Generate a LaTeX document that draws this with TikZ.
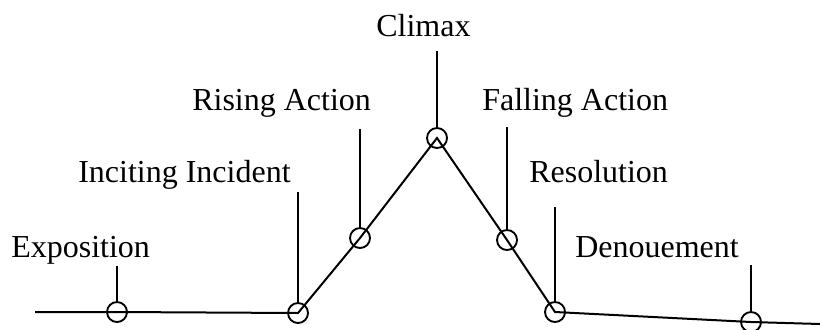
\documentclass[tikz,border=0pt]{standalone}
\usepackage{fontspec}
\setmainfont{Liberation Serif}
\usetikzlibrary{positioning}
\tikzset{
  plotline/.style={line width=1.5pt, black},
  tickline/.style={line width=1.5pt, black},
  stagept/.style={circle, draw=black, fill=none, line width=1.4pt,
                  minimum size=15pt, inner sep=0pt},
  stagelbl/.style={anchor=base west, inner sep=0pt,
                   font=\fontsize{24}{28}\selectfont},
}
\begin{document}
\begin{tikzpicture}[x=0.75pt, y=-0.75pt]
  \useasboundingbox (0,0) rectangle (820,329);

  %% Stage points on the plot line
  \node[stagept] (expo)   at (117,312) {};
  \node[stagept] (incite) at (298,313) {};
  \node[stagept] (rise)   at (360,238) {};
  \node[stagept] (climax) at (437,138) {};
  \node[stagept] (fall)   at (507,240) {};
  \node[stagept] (resol)  at (555,312) {};
  \node[stagept] (denou)  at (751,322) {};
  \coordinate (begin) at (35,312);
  \coordinate (finish) at (820,324);

  %% Plot line
  \draw[plotline] (begin) -- (expo.center) -- (incite.center) -- (rise.center)
    -- (climax.center) -- (fall.center) -- (resol.center) -- (denou.center) -- (finish);

  %% Labels
  \node[stagelbl] (lclimax) at (376,36)  {Climax};
  \node[stagelbl] (lrise)   at (192,110) {Rising Action};
  \node[stagelbl] (lfall)   at (482,110) {Falling Action};
  \node[stagelbl] (lincite) at (78,182)  {Inciting Incident};
  \node[stagelbl] (lresol)  at (529,182) {Resolution};
  \node[stagelbl] (lexpo)   at (11,257)  {Exposition};
  \node[stagelbl] (ldenou)  at (575,257) {Denouement};

  %% Ticks
  \coordinate (texpo)   at (117,266);
  \coordinate (tincite) at (298,192);
  \coordinate (trise)   at (360,129);
  \coordinate (tclimax) at (437,51);
  \coordinate (tfall)   at (507,127);
  \coordinate (tresol)  at (555,207);
  \coordinate (tdenou)  at (751,265);
  \draw[tickline] (texpo) -- (expo.north);
  \draw[tickline] (tincite) -- (incite.north);
  \draw[tickline] (trise) -- (rise.north);
  \draw[tickline] (tclimax) -- (climax.north);
  \draw[tickline] (tfall) -- (fall.north);
  \draw[tickline] (tresol) -- (resol.north);
  \draw[tickline] (tdenou) -- (denou.north);

\end{tikzpicture}
\end{document}
